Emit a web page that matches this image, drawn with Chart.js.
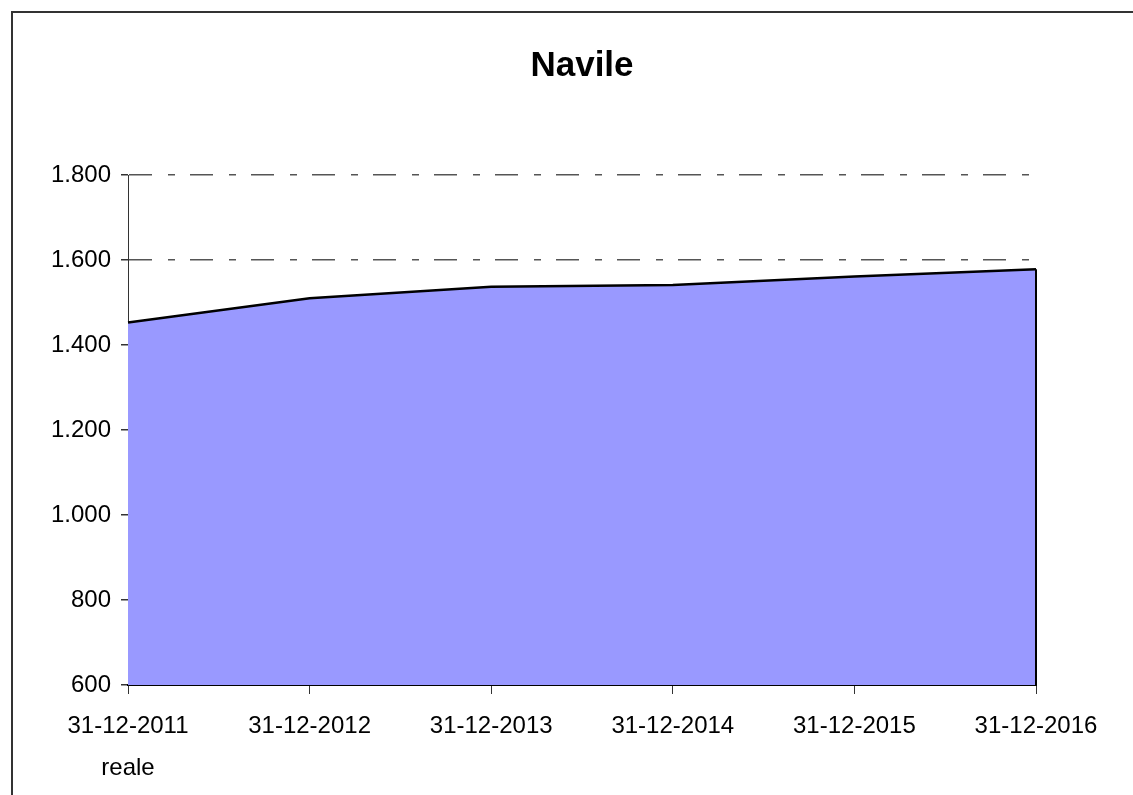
<!DOCTYPE html>
<html lang="it">
<head>
    <meta charset="UTF-8">
    <title>Navile</title>
    <script src="https://cdn.jsdelivr.net/npm/chart.js"></script>
    <style>
        html, body { margin: 0; padding: 0; background: #ffffff; overflow: hidden; }
        .cornice {
            position: absolute;
            left: 11px;
            top: 11px;
            width: 1200px;
            height: 900px;
            border: 2px solid #333333;
        }
        #grafico { position: absolute; left: 0; top: 0; }
    </style>
</head>
<body>
    <div class="cornice"></div>
    <canvas id="grafico" width="1133" height="795"></canvas>
    <script>
        const titolo = "Navile";
        const date = [["31-12-2011", "reale"], "31-12-2012", "31-12-2013", "31-12-2014", "31-12-2015", "31-12-2016"];
        const valori = [1453, 1510, 1537, 1541, 1561, 1578];
        const asseMin = 600;
        const asseMax = 1800;
        const passo = 200;

        function migliaia(v) {
            return String(v).replace(/\B(?=(\d{3})+(?!\d))/g, ".");
        }

        // chiude l'area a destra come fa Excel
        const bordoDestro = {
            id: "bordoDestro",
            afterDatasetsDraw(chart) {
                const meta = chart.getDatasetMeta(0);
                const ultimo = meta.data[meta.data.length - 1];
                const ctx = chart.ctx;
                ctx.save();
                ctx.strokeStyle = "#000000";
                ctx.lineWidth = 2;
                ctx.beginPath();
                ctx.moveTo(ultimo.x, ultimo.y);
                ctx.lineTo(ultimo.x, chart.chartArea.bottom);
                ctx.stroke();
                ctx.restore();
            }
        };

        new Chart(document.getElementById("grafico"), {
            type: "line",
            data: {
                labels: date,
                datasets: [{
                    data: valori,
                    borderColor: "#000000",
                    borderWidth: 2.5,
                    backgroundColor: "#9999FF",
                    fill: "start",
                    pointRadius: 0,
                    tension: 0
                }]
            },
            options: {
                responsive: false,
                devicePixelRatio: 1,
                animation: false,
                layout: { padding: { left: 0, right: 97, top: 0, bottom: 0 } },
                plugins: {
                    legend: { display: false },
                    tooltip: { enabled: false },
                    title: {
                        display: true,
                        text: titolo,
                        fullSize: false,
                        color: "#000000",
                        font: { family: "'Liberation Sans', Arial, sans-serif", size: 35, weight: "bold", lineHeight: 1.2 },
                        padding: { top: 45, bottom: 88 }
                    }
                },
                scales: {
                    x: {
                        offset: false,
                        border: { color: "#000000", width: 2 },
                        grid: {
                            drawOnChartArea: false,
                            tickLength: 9,
                            tickColor: "#333333"
                        },
                        ticks: {
                            color: "#000000",
                            padding: 11,
                            maxRotation: 0,
                            autoSkip: false,
                            font: { family: "'Liberation Sans', Arial, sans-serif", size: 24, lineHeight: 1.75 }
                        },
                        afterFit(scale) { scale.height = 110; }
                    },
                    y: {
                        min: asseMin,
                        max: asseMax,
                        border: { color: "#333333", width: 1, dash: [23, 16, 7, 15] },
                        grid: {
                            color: "#555555",
                            lineWidth: 1.5,
                            tickLength: 7,
                            tickColor: "#333333",
                            tickBorderDash: []
                        },
                        ticks: {
                            stepSize: passo,
                            color: "#000000",
                            padding: 10,
                            font: { family: "'Liberation Sans', Arial, sans-serif", size: 24 },
                            callback: (v) => migliaia(v)
                        },
                        afterFit(scale) { scale.width = 128; }
                    }
                }
            },
            plugins: [bordoDestro]
        });
    </script>
</body>
</html>
